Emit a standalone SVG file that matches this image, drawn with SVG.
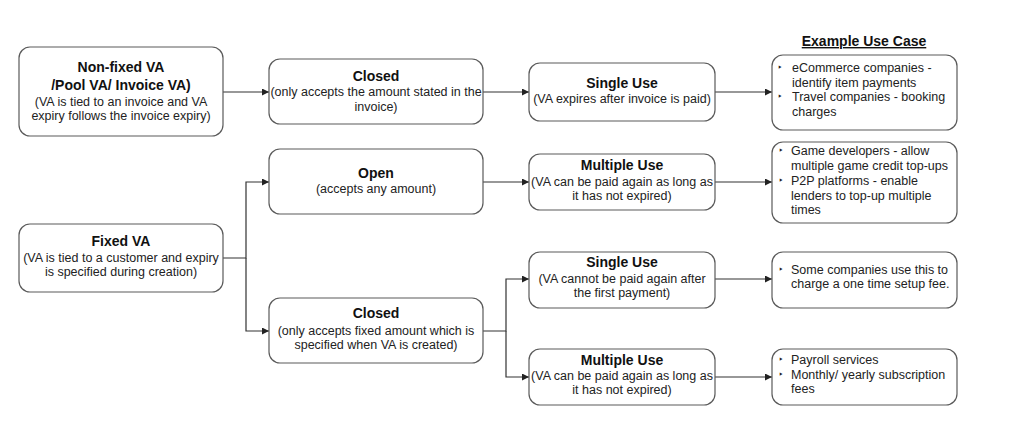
<svg xmlns="http://www.w3.org/2000/svg" width="1024" height="434" viewBox="0 0 1024 434">
<defs>
<style>
.box{fill:#fff;stroke:#5a5a5a;stroke-width:1.2}
.t{font-family:"Liberation Sans",Arial,sans-serif;font-size:12.5px;fill:#222;text-anchor:middle}
.b{font-weight:bold;font-size:14px;fill:#111}
.l{text-anchor:start}
.bu{font-size:10.5px}
.c{fill:none;stroke:#333;stroke-width:1.2}
</style>
<marker id="ah" viewBox="0 0 10 10" refX="10" refY="5" markerWidth="8" markerHeight="7" markerUnits="userSpaceOnUse" orient="auto">
<path d="M0,0 L10,5 L0,10 z" fill="#222"/>
</marker>
</defs>
<rect width="1024" height="434" fill="#fff"/>
<g id="connectors">
<path class="c" d="M223,92 H269" marker-end="url(#ah)"/>
<path class="c" d="M483,92 H529" marker-end="url(#ah)"/>
<path class="c" d="M715,92 H772" marker-end="url(#ah)"/>
<path class="c" d="M223,258 H246 V182 H269" marker-end="url(#ah)"/>
<path class="c" d="M246,258 V331 H269" marker-end="url(#ah)"/>
<path class="c" d="M483,182 H529" marker-end="url(#ah)"/>
<path class="c" d="M715,182 H772" marker-end="url(#ah)"/>
<path class="c" d="M483,331 H506 V279 H529" marker-end="url(#ah)"/>
<path class="c" d="M506,331 V377 H529" marker-end="url(#ah)"/>
<path class="c" d="M715,279 H772" marker-end="url(#ah)"/>
<path class="c" d="M715,377 H772" marker-end="url(#ah)"/>
</g>
<g id="nonfixed">
<rect class="box" x="19" y="47" width="204" height="89" rx="11"/>
<text class="t b" x="121" y="72">Non-fixed VA</text>
<text class="t b" x="121" y="90">/Pool VA/ Invoice VA)</text>
<text class="t" x="121" y="106">(VA is tied to an invoice and VA</text>
<text class="t" x="121" y="120">expiry follows the invoice expiry)</text>
</g>
<g id="closed1">
<rect class="box" x="269" y="59" width="214" height="65" rx="11"/>
<text class="t b" x="376" y="81">Closed</text>
<text class="t" x="376" y="96">(only accepts the amount stated in the</text>
<text class="t" x="376" y="111">invoice)</text>
</g>
<g id="single1">
<rect class="box" x="529" y="63" width="186" height="58" rx="11"/>
<text class="t b" x="622" y="88">Single Use</text>
<text class="t" x="622" y="103">(VA expires after invoice is paid)</text>
</g>
<g id="title">
<text class="t b" x="864" y="46" text-decoration="underline">Example Use Case</text>
</g>
<g id="usecase1">
<rect class="box" x="772" y="55" width="185" height="75" rx="11"/>
<text class="t l bu" x="778" y="71">‣</text>
<text class="t l" x="792" y="72">eCommerce companies -</text>
<text class="t l" x="792" y="87">identify item payments</text>
<text class="t l bu" x="778" y="100">‣</text>
<text class="t l" x="792" y="101">Travel companies - booking</text>
<text class="t l" x="792" y="116">charges</text>
</g>
<g id="open">
<rect class="box" x="269" y="149" width="214" height="65" rx="11"/>
<text class="t b" x="376" y="178">Open</text>
<text class="t" x="376" y="193">(accepts any amount)</text>
</g>
<g id="fixed">
<rect class="box" x="19" y="224" width="204" height="68" rx="11"/>
<text class="t b" x="121" y="246">Fixed VA</text>
<text class="t" x="121" y="262">(VA is tied to a customer and expiry</text>
<text class="t" x="121" y="276">is specified during creation)</text>
</g>
<g id="multiple1">
<rect class="box" x="529" y="154" width="186" height="56" rx="11"/>
<text class="t b" x="622" y="170">Multiple Use</text>
<text class="t" x="622" y="186">(VA can be paid again as long as</text>
<text class="t" x="622" y="200">it has not expired)</text>
</g>
<g id="usecase2">
<rect class="box" x="772" y="142" width="185" height="81" rx="11"/>
<text class="t l bu" x="779" y="154">‣</text>
<text class="t l" x="791" y="155">Game developers - allow</text>
<text class="t l" x="791" y="170">multiple game credit top-ups</text>
<text class="t l bu" x="779" y="184">‣</text>
<text class="t l" x="791" y="185">P2P platforms - enable</text>
<text class="t l" x="791" y="200">lenders to top-up multiple</text>
<text class="t l" x="791" y="214">times</text>
</g>
<g id="closed2">
<rect class="box" x="269" y="298" width="214" height="65" rx="11"/>
<text class="t b" x="376" y="318">Closed</text>
<text class="t" x="376" y="335">(only accepts fixed amount which is</text>
<text class="t" x="376" y="349">specified when VA is created)</text>
</g>
<g id="single2">
<rect class="box" x="529" y="252" width="186" height="56" rx="11"/>
<text class="t b" x="622" y="267">Single Use</text>
<text class="t" x="622" y="283">(VA cannot be paid again after</text>
<text class="t" x="622" y="297">the first payment)</text>
</g>
<g id="usecase3">
<rect class="box" x="772" y="252" width="185" height="56" rx="11"/>
<text class="t l bu" x="779" y="273">‣</text>
<text class="t l" x="791" y="274">Some companies use this to</text>
<text class="t l" x="791" y="288">charge a one time setup fee.</text>
</g>
<g id="multiple2">
<rect class="box" x="529" y="349" width="186" height="56" rx="11"/>
<text class="t b" x="622" y="365">Multiple Use</text>
<text class="t" x="622" y="380">(VA can be paid again as long as</text>
<text class="t" x="622" y="394">it has not expired)</text>
</g>
<g id="usecase4">
<rect class="box" x="772" y="349" width="185" height="56" rx="11"/>
<text class="t l bu" x="779" y="363">‣</text>
<text class="t l" x="791" y="364">Payroll services</text>
<text class="t l bu" x="779" y="378">‣</text>
<text class="t l" x="791" y="379">Monthly/ yearly subscription</text>
<text class="t l" x="791" y="393">fees</text>
</g>
</svg>
